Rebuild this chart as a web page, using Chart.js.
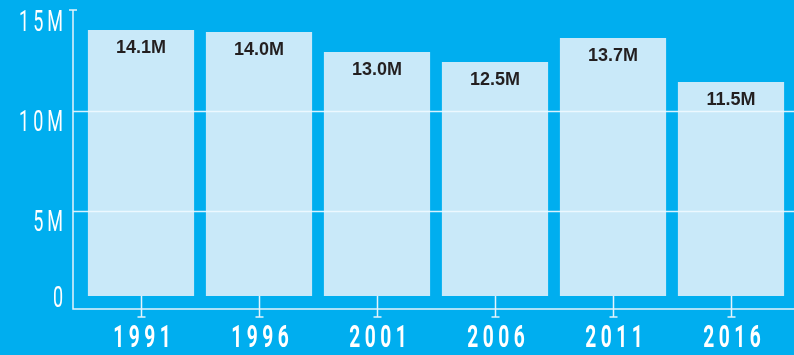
<!DOCTYPE html>
<html>
<head>
<meta charset="utf-8">
<script src="https://cdn.jsdelivr.net/npm/chart.js@4.4.0/dist/chart.umd.min.js"></script>
<style>
  html, body { margin: 0; padding: 0; background: #00AEEF; }
  #wrap { width: 794px; height: 355px; position: relative; }
</style>
</head>
<body>
<div id="wrap"><canvas id="chart"></canvas></div>
<script>
// chart data
const years = ['1991', '1996', '2001', '2006', '2011', '2016'];
const population = [14.1, 14.0, 13.0, 12.5, 13.7, 11.5];  // millions
const yTicks = [0, 5, 10, 15];
const yTickLabels = ['0', '5M', '10M', '15M'];

const lineColor = '#E3F4FC';
const barColor = '#C9E9F9';

// condensed text: no narrow font installed, so squeeze a normal one horizontally
function squeezedText(ctx, text, x, y, align, sx, gap) {
  ctx.save();
  ctx.textAlign = 'left';
  ctx.textBaseline = 'middle';
  const chars = text.split('');
  const widths = chars.map(c => ctx.measureText(c).width * sx);
  const total = widths.reduce((a, b) => a + b, 0) + gap * (chars.length - 1);
  let cx = align === 'right' ? x - total : align === 'center' ? x - total / 2 : x;
  chars.forEach((c, i) => {
    ctx.setTransform(sx, 0, 0, 1, cx, y);
    ctx.fillText(c, 0, 0);
    cx += widths[i] + gap;
  });
  ctx.restore();
}

// axes, grid, labels are drawn by hand so they can sit where the infographic has them
const decor = {
  id: 'decor',
  afterDatasetsDraw(chart) {
    const ctx = chart.ctx;
    const x = chart.scales.x, y = chart.scales.y;
    const area = chart.chartArea;
    const axisX = 73, axisY = area.bottom - 3;
    ctx.save();

    // horizontal grid lines at 5M / 10M
    ctx.strokeStyle = 'rgba(240,250,255,0.9)';
    ctx.lineWidth = 1.5;
    [5, 10].forEach(v => {
      const py = Math.round(y.getPixelForValue(v)) - 0.5;
      ctx.beginPath(); ctx.moveTo(axisX, py); ctx.lineTo(794, py); ctx.stroke();
    });

    // axis lines
    ctx.strokeStyle = lineColor;
    ctx.lineWidth = 1.5;
    const top = y.getPixelForValue(15) - 2;
    ctx.beginPath();
    ctx.moveTo(axisX, top); ctx.lineTo(axisX, axisY); ctx.lineTo(794, axisY);
    ctx.moveTo(axisX - 4, top); ctx.lineTo(axisX + 4, top);
    ctx.stroke();

    // x ticks with little caps
    const barBottom = y.getPixelForValue(chart.data.datasets[0].base);
    years.forEach((yr, i) => {
      const px = Math.round(x.getPixelForValue(i)) + 0.5;
      ctx.beginPath();
      ctx.moveTo(px, barBottom); ctx.lineTo(px, axisY + 8);
      ctx.moveTo(px - 4, axisY + 8); ctx.lineTo(px + 4, axisY + 8);
      ctx.stroke();
    });

    // year labels
    ctx.fillStyle = '#FFFFFF';
    ctx.font = 'bold 32px Roboto, "DejaVu Sans", sans-serif';
    years.forEach((yr, i) => {
      squeezedText(ctx, yr, x.getPixelForValue(i) + 1, 339, 'center', 0.6, 4.5);
    });

    // y labels (sit a bit below their grid line, "0" above the axis)
    ctx.font = '30px Roboto, "DejaVu Sans", sans-serif';
    yTicks.forEach((v, i) => {
      const off = v === 0 ? -13 : 11;
      squeezedText(ctx, yTickLabels[i], 63, y.getPixelForValue(v) + off, 'right', 0.6, 4);
    });

    // value labels inside bars
    ctx.fillStyle = '#231F20';
    ctx.font = 'bold 18px "Liberation Sans", Arial, sans-serif';
    ctx.textAlign = 'center';
    ctx.textBaseline = 'middle';
    population.forEach((v, i) => {
      ctx.fillText(v.toFixed(1) + 'M', x.getPixelForValue(i), y.getPixelForValue(v) + 18);
    });
    ctx.restore();
  }
};

new Chart(document.getElementById('chart'), {
  type: 'bar',
  data: {
    labels: years,
    datasets: [{
      data: population,
      base: 0.8,
      backgroundColor: barColor,
      borderWidth: 0,
      barPercentage: 0.9,
      categoryPercentage: 1.0
    }]
  },
  options: {
    responsive: true,
    maintainAspectRatio: false,
    animation: false,
    layout: { padding: { left: 82, right: 4, top: 12, bottom: 43 } },
    plugins: { legend: { display: false }, tooltip: { enabled: false } },
    scales: {
      x: { display: false, offset: true },
      y: { display: false, min: 0, max: 15 }
    }
  },
  plugins: [decor]
});
</script>
</body>
</html>
